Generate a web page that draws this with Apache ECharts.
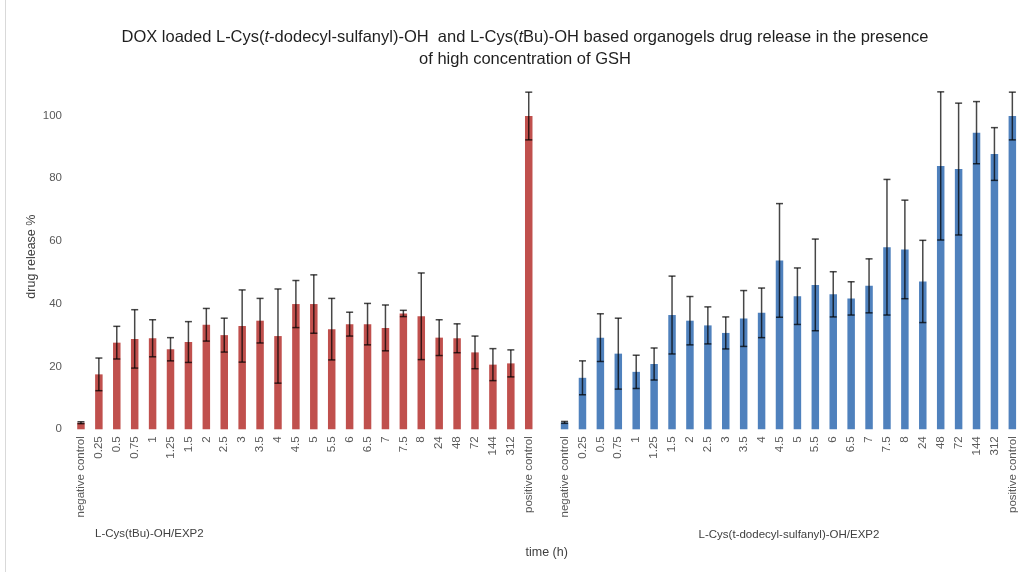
<!DOCTYPE html>
<html>
<head>
<meta charset="utf-8">
<script src="https://cdn.jsdelivr.net/npm/echarts@6/dist/echarts.min.js"></script>
<style>
html,body{margin:0;padding:0;background:#fff;}
#chart{width:1026px;height:572px;}
</style>
</head>
<body>
<div id="chart"></div>
<script>
const timeLabels = ['negative control','0.25','0.5','0.75','1','1.25','1.5','2','2.5','3','3.5','4','4.5','5','5.5','6','6.5','7','7.5','8','24','48','72','144','312','positive control'];
const groupLabels = ['L-Cys(tBu)-OH/EXP2','L-Cys(t-dodecyl-sulfanyl)-OH/EXP2'];
const tBuValues = [2.1, 17.5, 27.6, 28.8, 29.0, 25.5, 27.8, 33.3, 30.0, 32.9, 34.6, 29.7, 39.9, 39.9, 31.9, 33.5, 33.5, 32.3, 36.9, 36.0, 29.2, 29.0, 24.5, 20.6, 21.0, 99.8];
const tBuErrors = [0.3, 5.2, 5.2, 9.3, 5.9, 3.7, 6.5, 5.2, 5.4, 11.5, 7.1, 15.0, 7.5, 9.3, 9.8, 3.8, 6.6, 7.3, 1.0, 13.8, 5.7, 4.6, 5.2, 5.1, 4.3, 7.6];
const dodecylValues = [2.2, 16.4, 29.2, 24.1, 18.3, 20.8, 36.4, 34.6, 33.1, 30.7, 35.3, 37.1, 53.8, 42.4, 46.0, 43.0, 41.7, 45.7, 58.0, 57.3, 47.1, 83.9, 82.9, 94.5, 87.7, 99.8];
const dodecylErrors = [0.3, 5.4, 7.6, 11.3, 5.3, 5.1, 12.4, 7.7, 5.9, 5.1, 8.9, 7.9, 18.1, 9.0, 14.6, 7.2, 5.3, 8.6, 21.6, 15.7, 13.1, 23.6, 21.0, 9.9, 8.4, 7.6];
const yTicks = [0, 20, 40, 60, 80, 100];

const n = timeLabels.length;
const categories = timeLabels.concat(['']).concat(timeLabels);
const redData = [], blueData = [], errData = [];
for (let i = 0; i < categories.length; i++) { redData.push(null); blueData.push(null); }
for (let i = 0; i < n; i++) {
  redData[i] = tBuValues[i];
  errData.push([i, tBuValues[i], tBuErrors[i]]);
  blueData[n + 1 + i] = dodecylValues[i];
  errData.push([n + 1 + i, dodecylValues[i], dodecylErrors[i]]);
}

const font = 'Liberation Sans';
const chart = echarts.init(document.getElementById('chart'), null, {renderer: 'canvas'});
chart.setOption({
  animation: false,
  backgroundColor: '#fff',
  title: {
    text: 'DOX loaded L-Cys({i|t}-dodecyl-sulfanyl)-OH  and L-Cys({i|t}Bu)-OH based organogels drug release in the presence\nof high concentration of GSH',
    left: 520, top: 21, textAlign: 'center',
    textStyle: {
      fontFamily: font, fontSize: 16.5, fontWeight: 'normal', color: '#1f1f1f', lineHeight: 22,
      rich: { i: { fontFamily: font, fontSize: 16.5, fontStyle: 'italic', color: '#1f1f1f' } }
    }
  },
  grid: { left: 72, right: 4.7, top: 84, bottom: 142.7, containLabel: false },
  xAxis: {
    type: 'category',
    data: categories,
    axisLine: { show: false },
    axisTick: { show: false },
    axisLabel: { interval: 0, rotate: 90, fontFamily: font, fontSize: 11.5, color: '#595959', margin: 7 },
    name: 'time (h)', nameLocation: 'middle', nameGap: 117, nameMoveOverlap: false,
    nameTextStyle: { fontFamily: font, fontSize: 12.5, color: '#404040' }
  },
  yAxis: {
    type: 'value', min: 0, max: 110, interval: 20,
    axisLine: { show: false }, axisTick: { show: false }, splitLine: { show: false },
    axisLabel: { fontFamily: font, fontSize: 11.5, color: '#595959', margin: 10, showMaxLabel: false,
      formatter: v => (yTicks.indexOf(v) >= 0 ? String(v) : '') },
    name: 'drug release %', nameLocation: 'middle', nameGap: 40, nameRotate: 90, nameMoveOverlap: false,
    nameTextStyle: { fontFamily: font, fontSize: 12.5, color: '#404040', verticalAlign: 'middle' }
  },
  series: [
    { type: 'bar', data: redData, barWidth: 7.5, barGap: '-100%', itemStyle: { color: '#C0504D' } },
    { type: 'bar', data: blueData, barWidth: 7.5, barGap: '-100%', itemStyle: { color: '#4F81BD' } },
    {
      type: 'custom', data: errData, z: 10,
      encode: { x: 0, y: 1 },
      renderItem: function (params, api) {
        const x = api.value(0), v = api.value(1), e = api.value(2);
        const hi = api.coord([x, v + e]);
        const lo = api.coord([x, v - e]);
        const hw = 3.5;
        const st = { stroke: 'rgba(0,0,0,0.72)', lineWidth: 1.5 };
        return {
          type: 'group',
          children: [
            { type: 'line', shape: { x1: hi[0], y1: hi[1], x2: lo[0], y2: lo[1] }, style: st },
            { type: 'line', shape: { x1: hi[0] - hw, y1: hi[1], x2: hi[0] + hw, y2: hi[1] }, style: st },
            { type: 'line', shape: { x1: lo[0] - hw, y1: lo[1], x2: lo[0] + hw, y2: lo[1] }, style: st }
          ]
        };
      }
    }
  ],
  graphic: [
    { type: 'line', shape: { x1: 5.5, y1: 0, x2: 5.5, y2: 572 }, style: { stroke: '#d9d9d9', lineWidth: 1 } },
    { type: 'text', left: 95, top: 528, style: { text: groupLabels[0], fontFamily: font, fontSize: 11.5, fill: '#404040' } },
    { type: 'text', x: 789, y: 535, style: { text: groupLabels[1], fontFamily: font, fontSize: 11.5, fill: '#404040', align: 'center', verticalAlign: 'middle' } }
  ]
});
</script>
</body>
</html>
